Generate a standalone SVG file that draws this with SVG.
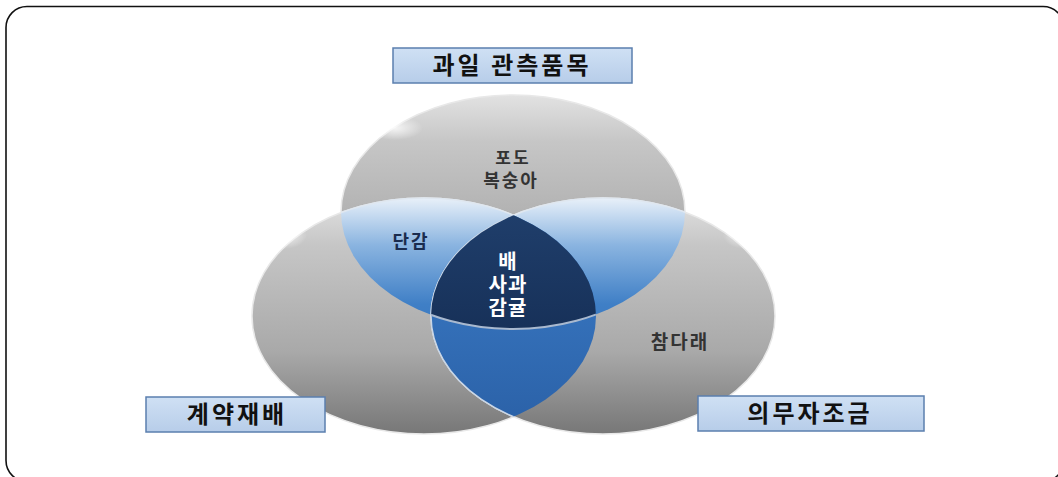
<svg xmlns="http://www.w3.org/2000/svg" width="1058" height="477" viewBox="0 0 1058 477">
<style>
.lbl{fill:url(#lblGrad);stroke:#5b7fae;stroke-width:1.5}
.lt{font-family:"Noto Sans CJK KR","Noto Sans",sans-serif;font-weight:700;font-size:24px;letter-spacing:3px;fill:#111;text-anchor:middle}
.gt{font-family:"Liberation Sans","Noto Sans CJK KR",sans-serif;font-weight:700;font-size:18px;letter-spacing:2px;fill:#333;text-anchor:middle}
.ct{font-family:"Liberation Sans","Noto Sans CJK KR",sans-serif;font-weight:700;font-size:20px;letter-spacing:1px;fill:#ffffff;text-anchor:middle}
.gray{fill:url(#grayGrad);stroke:#e8e8e8;stroke-width:1.5}
</style>
<defs>
<linearGradient id="lblGrad" x1="0" y1="0" x2="0" y2="1">
<stop offset="0" stop-color="#cfe0f4"/>
<stop offset="1" stop-color="#b7cde9"/>
</linearGradient>
<linearGradient id="grayGrad" x1="0" y1="0" x2="0" y2="1">
<stop offset="0" stop-color="#e2e2e2"/>
<stop offset="0.2" stop-color="#c6c6c6"/>
<stop offset="0.65" stop-color="#a9a9a9"/>
<stop offset="1" stop-color="#777777"/>
</linearGradient>
<radialGradient id="hl" cx="0.5" cy="0.5" r="0.5">
<stop offset="0" stop-color="#ffffff" stop-opacity="0.8"/>
<stop offset="1" stop-color="#ffffff" stop-opacity="0"/>
</radialGradient>
<linearGradient id="blueTop" x1="0" y1="0" x2="0" y2="1">
<stop offset="0" stop-color="#e8f0f9"/>
<stop offset="0.2" stop-color="#8ab4e0"/>
<stop offset="0.45" stop-color="#3f7fc6"/>
<stop offset="1" stop-color="#2b62a6"/>
</linearGradient>
<linearGradient id="blueBot" x1="0" y1="0" x2="0" y2="1">
<stop offset="0" stop-color="#3e80cc"/>
<stop offset="1" stop-color="#2a60a6"/>
</linearGradient>
<linearGradient id="navy" x1="0" y1="0" x2="0" y2="1">
<stop offset="0" stop-color="#f2f6fa"/>
<stop offset="0.2" stop-color="#9aafca"/>
<stop offset="0.4" stop-color="#21416f"/>
<stop offset="1" stop-color="#173159"/>
</linearGradient>
<clipPath id="cTop"><ellipse cx="513" cy="212" rx="172" ry="117"/></clipPath>
<clipPath id="cLeft"><ellipse cx="424" cy="316" rx="172" ry="118"/></clipPath>
<clipPath id="cRight"><ellipse cx="603" cy="316" rx="172" ry="118"/></clipPath>
</defs>

<rect x="6" y="6.5" width="1058" height="475" rx="21" fill="#ffffff" stroke="#111" stroke-width="1.6"/>

<g id="circle-top">
<ellipse class="gray" cx="513" cy="212" rx="172" ry="117"/>
<ellipse cx="395" cy="128" rx="28" ry="12" fill="url(#hl)"/>
</g>
<g id="circle-left">
<ellipse class="gray" cx="424" cy="316" rx="172" ry="118"/>
<ellipse cx="285" cy="235" rx="22" ry="14" fill="url(#hl)"/>
</g>
<g id="circle-right">
<ellipse class="gray" cx="603" cy="316" rx="172" ry="118"/>
<ellipse cx="745" cy="235" rx="22" ry="14" fill="url(#hl)"/>
</g>

<g id="overlap-top-left">
<g clip-path="url(#cTop)"><ellipse cx="424" cy="316" rx="172" ry="118" fill="url(#blueTop)" stroke="#dfe7f0" stroke-width="1.5"/></g>
</g>
<g id="overlap-top-right">
<g clip-path="url(#cTop)"><ellipse cx="603" cy="316" rx="172" ry="118" fill="url(#blueTop)" stroke="#dfe7f0" stroke-width="1.5"/></g>
</g>
<g id="overlap-left-right">
<g clip-path="url(#cLeft)"><ellipse cx="603" cy="316" rx="172" ry="118" fill="url(#blueBot)" stroke="#c9d6e6" stroke-width="1.5"/></g>
</g>
<g id="overlap-center">
<g clip-path="url(#cLeft)"><g clip-path="url(#cRight)"><ellipse cx="513" cy="212" rx="172" ry="117" fill="url(#navy)" stroke="#a9b9cf" stroke-width="2"/></g></g>
<text class="ct" x="508" y="269">배</text>
<text class="ct" x="508" y="292">사과</text>
<text class="ct" x="508" y="315">감귤</text>
</g>

<g id="text-top">
<text class="gt" x="513" y="164" style="font-size:17px">포도</text>
<text class="gt" x="511" y="187">복숭아</text>
</g>
<g id="text-dangam">
<text class="gt" x="411" y="248" style="fill:#1a2c4e">단감</text>
</g>
<g id="text-chamdarae">
<text class="gt" x="680" y="349" style="font-size:19px">참다래</text>
</g>

<g id="label-top">
<rect class="lbl" x="393" y="48" width="239" height="35"/>
<text class="lt" x="512" y="74">과일 관측품목</text>
</g>
<g id="label-left">
<rect class="lbl" x="146" y="397" width="179" height="35"/>
<text class="lt" x="237" y="423">계약재배</text>
</g>
<g id="label-right">
<rect class="lbl" x="698" y="396" width="226" height="35"/>
<text class="lt" x="810" y="422">의무자조금</text>
</g>
<g id="connectors"></g>
</svg>
